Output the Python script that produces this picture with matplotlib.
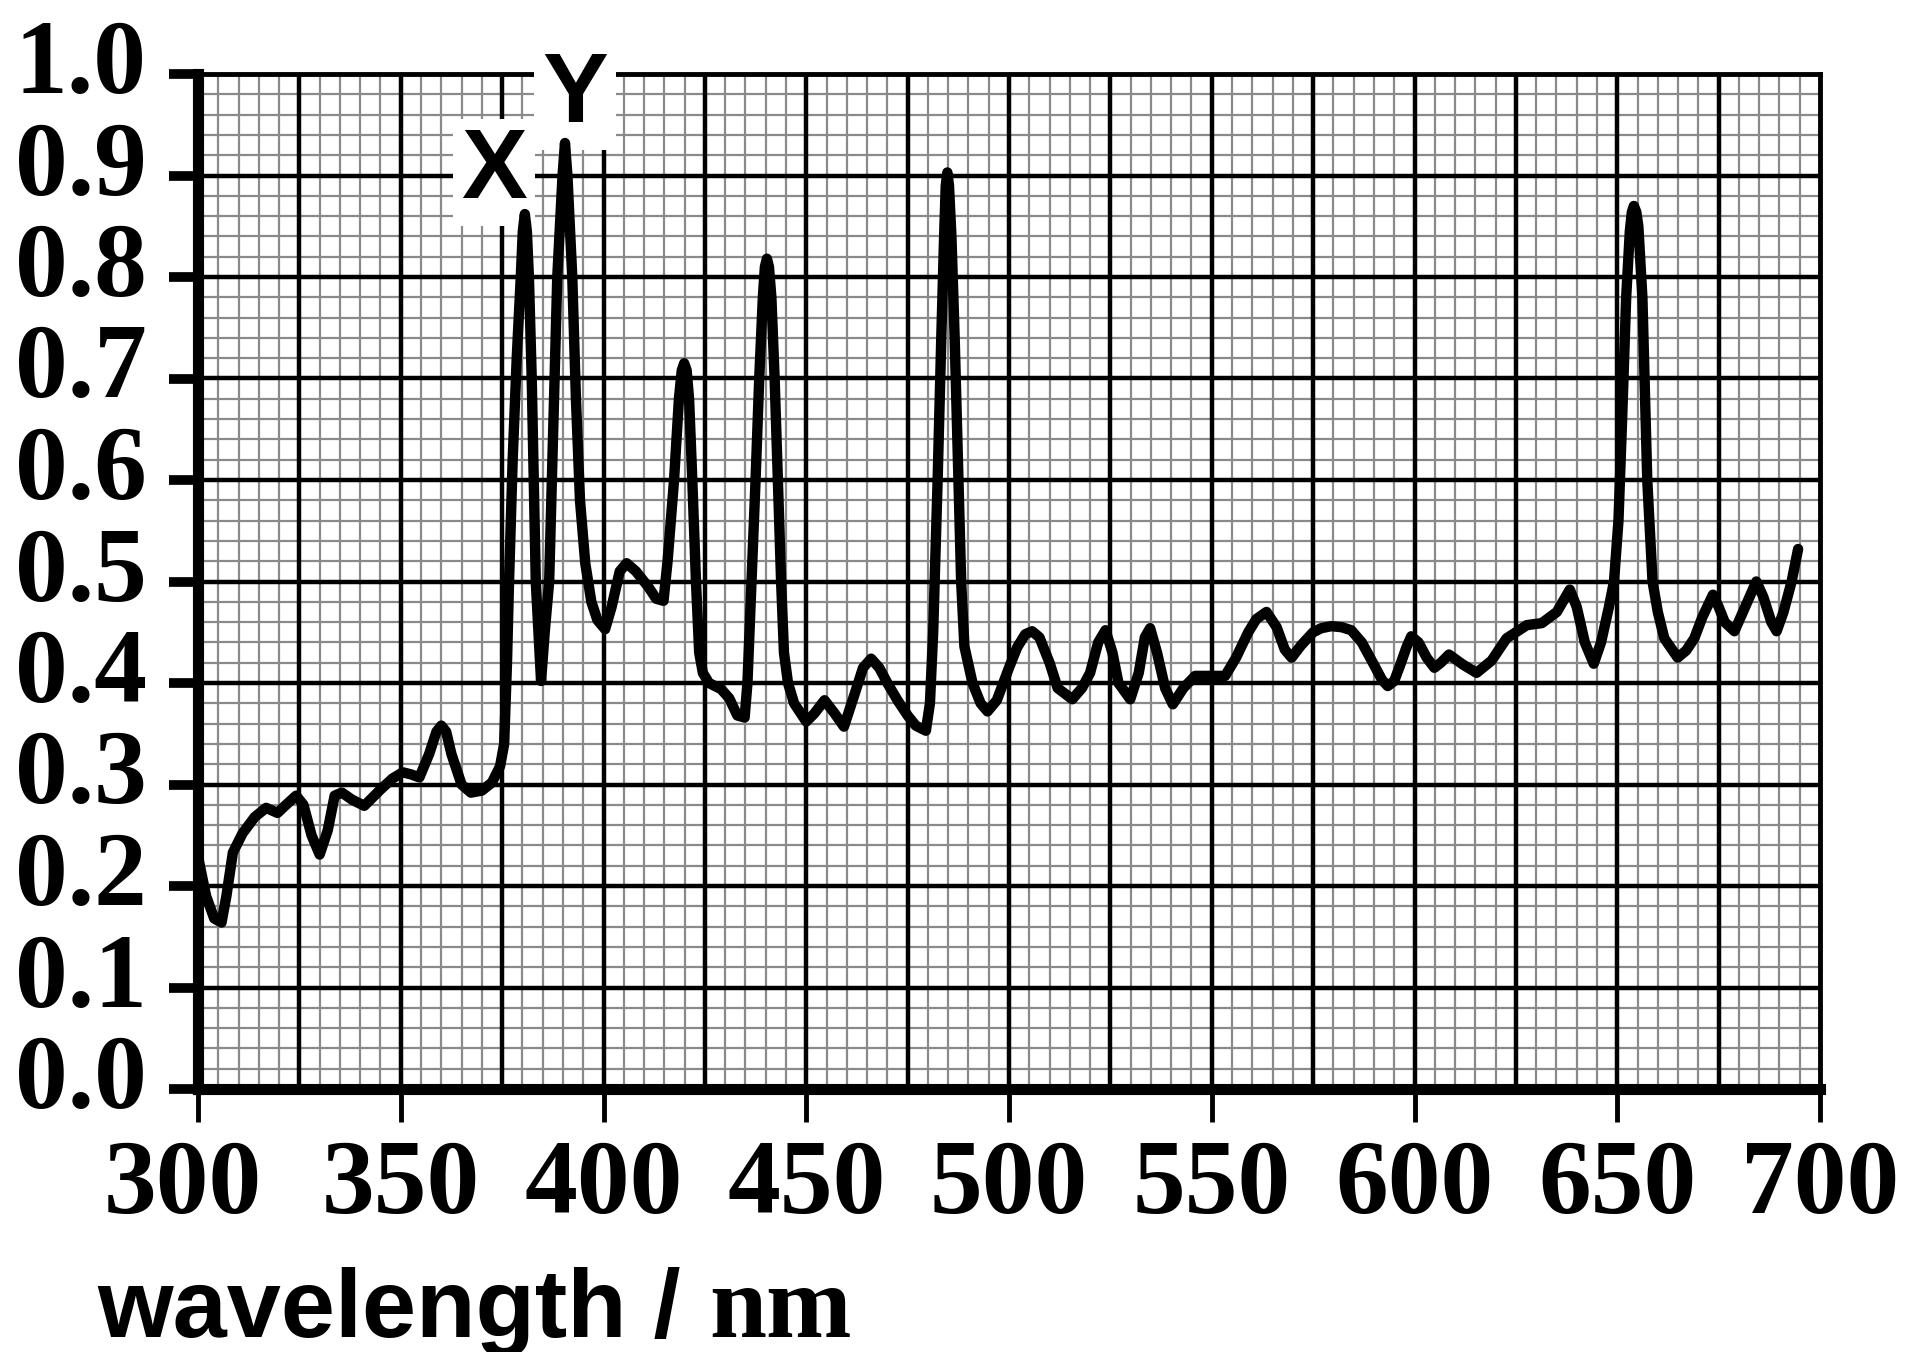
import numpy as np
import matplotlib
matplotlib.use("Agg")
import matplotlib.pyplot as plt
from matplotlib.transforms import ScaledTranslation

# spectrum (wavelength in nm, absorbance)
wavelength = [300, 302, 304, 305.8, 307, 308.6, 311, 314, 316.8, 319.6, 322, 324.2, 326, 328, 330,
              332, 333.7, 335.5, 338, 341, 345, 348, 350.5, 352.5, 354.6, 357, 358.8, 360, 361.2, 362.5,
              365, 367.3, 370, 372.5, 374.5, 375.5, 376.2, 376.7, 377.6, 378.6, 379.6, 380.1, 380.6,
              381.1, 381.6, 382.3, 383.3, 384.6, 385.5, 386.6, 387.6, 388.6, 389.9, 390.5, 391.1, 392.3,
              393.2, 394.2, 395.5, 397, 398.5, 400.4, 402, 404, 405.7, 408, 411, 413, 414.8, 415.8,
              417.4, 418.6, 419.3, 419.9, 420.5, 421.1, 421.9, 422.8, 423.6, 424.5, 426, 429, 431, 433,
              434.8, 435.5, 436.5, 437.5, 438.4, 439.3, 439.8, 440.3, 440.8, 441.4, 442.2, 443, 443.8,
              444.5, 445.5, 447, 450, 452, 454.5, 457, 459.3, 462, 464, 466, 468, 470, 472.5, 475, 477,
              479.5, 480.5, 481.3, 482.4, 483.3, 484, 484.4, 484.8, 485.2, 485.8, 486.6, 487.4, 488.2,
              489, 491, 493, 494.7, 497, 500, 502, 504, 505.7, 507.5, 510, 512, 515.6, 518, 520, 522,
              523.8, 525.5, 527, 529.9, 532, 533.5, 534.8, 536.5, 538.5, 540.4, 543, 545.9, 550, 553.3,
              556, 559, 561, 563.5, 566, 568, 569.7, 572, 575, 577, 579.5, 582, 584.4, 587, 590, 592,
              593.4, 595, 596.5, 598, 599.2, 601, 603, 604.9, 606.5, 608.5, 612, 615.3, 619, 622.7,
              627.7, 631.4, 635.1, 638.3, 640, 642, 644.2, 646, 647.9, 649.2, 650.3, 651.2, 652.2,
              653.1, 653.6, 654.1, 654.7, 655.2, 656.2, 657.4, 658.7, 660, 661.6, 664.9, 667, 669, 671,
              673.6, 675, 676.5, 678.9, 681, 684.3, 686, 688, 689.3, 691, 693, 694.6]
absorbance = [0.229, 0.19, 0.168, 0.164, 0.19, 0.233, 0.252, 0.268, 0.277, 0.272, 0.281, 0.289, 0.28, 0.25, 0.231,
              0.255, 0.289, 0.292, 0.285, 0.279, 0.295, 0.306, 0.312, 0.31, 0.307, 0.33, 0.352, 0.358, 0.352, 0.33,
              0.30, 0.292, 0.294, 0.302, 0.318, 0.34, 0.42, 0.50, 0.62, 0.72, 0.80, 0.845, 0.862,
              0.845, 0.80, 0.70, 0.50, 0.402, 0.45, 0.50, 0.65, 0.80, 0.90, 0.932, 0.90, 0.80,
              0.68, 0.58, 0.518, 0.48, 0.462, 0.453, 0.475, 0.51, 0.518, 0.51, 0.495, 0.483, 0.481, 0.52,
              0.60, 0.68, 0.708, 0.715, 0.708, 0.68, 0.60, 0.50, 0.43, 0.41, 0.40, 0.394, 0.385, 0.368,
              0.366, 0.40, 0.50, 0.60, 0.70, 0.78, 0.81, 0.818, 0.81, 0.78, 0.70, 0.60, 0.50,
              0.43, 0.40, 0.38, 0.362, 0.37, 0.383, 0.37, 0.357, 0.39, 0.415, 0.424, 0.415, 0.40, 0.383, 0.368, 0.358,
              0.353, 0.38, 0.45, 0.60, 0.74, 0.84, 0.89, 0.903, 0.89, 0.84, 0.74, 0.62, 0.50,
              0.436, 0.40, 0.38, 0.372, 0.383, 0.415, 0.435, 0.448, 0.451, 0.445, 0.42, 0.395, 0.384, 0.395, 0.41, 0.44,
              0.452, 0.43, 0.40, 0.384, 0.41, 0.445, 0.454, 0.43, 0.395, 0.379, 0.395, 0.407, 0.407, 0.407,
              0.425, 0.45, 0.463, 0.470, 0.455, 0.433, 0.425, 0.437, 0.45, 0.454, 0.456, 0.455, 0.452, 0.44, 0.418, 0.403,
              0.397, 0.402, 0.418, 0.435, 0.446, 0.44, 0.425, 0.415, 0.42, 0.428, 0.418, 0.410, 0.422, 0.444,
              0.457, 0.459, 0.470, 0.492, 0.475, 0.44, 0.419, 0.44, 0.474, 0.50, 0.56, 0.66, 0.78,
              0.845, 0.864, 0.87, 0.864, 0.85, 0.78, 0.60, 0.50, 0.47, 0.444, 0.425, 0.432, 0.444, 0.465,
              0.487, 0.475, 0.46, 0.451, 0.47, 0.500, 0.485, 0.46, 0.451, 0.47, 0.50, 0.532]

x_ticks = [300, 350, 400, 450, 500, 550, 600, 650, 700]
y_ticks = [0.0, 0.1, 0.2, 0.3, 0.4, 0.5, 0.6, 0.7, 0.8, 0.9, 1.0]
peak_labels = ["X", "Y"]
peak_label_pos = [(373, 0.878), (393, 0.953)]

W, H = 1906, 1352
fig = plt.figure(figsize=(W / 100, H / 100), dpi=100)
ax = fig.add_axes([198 / W, 1 - 1089 / H, (1820 - 198) / W, (1089 - 74) / H])
ax.set_xlim(300, 700)
ax.set_ylim(0, 1)

# graph paper
ax.vlines(np.arange(300, 701, 5), 0, 1, colors="#8a8a8a", lw=1.6, zorder=0.5)
ax.hlines(np.arange(0, 1.001, 0.02), 300, 700, colors="#8a8a8a", lw=1.6, zorder=0.5)
ax.vlines(np.arange(325, 700, 25), 0, 1, colors="black", lw=3.2, zorder=0.6)
ax.hlines(np.arange(0.1, 1.0, 0.1), 300, 700, colors="black", lw=3.2, zorder=0.6)

ax.plot(wavelength, absorbance, color="black", lw=7.5, solid_joinstyle="round",
        solid_capstyle="round", zorder=3)

for s in ["left", "bottom"]:
    ax.spines[s].set_linewidth(8)
for s in ["top", "right"]:
    ax.spines[s].set_linewidth(3.5)

ax.set_xticks(x_ticks)
ax.set_xticklabels([str(v) for v in x_ticks])
ax.set_yticks(y_ticks)
ax.set_yticklabels(["%.1f" % v for v in y_ticks])
ax.tick_params(axis="y", length=21, width=7, pad=16, direction="out")
ax.tick_params(axis="x", length=24, width=3.5, pad=12, direction="out")
for lbl in ax.get_xticklabels() + ax.get_yticklabels():
    lbl.set_fontfamily("Liberation Serif")
    lbl.set_fontweight("bold")
    lbl.set_fontsize(76)
for lbl in ax.get_yticklabels():
    lbl.set_transform(lbl.get_transform() + ScaledTranslation(0, 18 / 100, fig.dpi_scale_trans))
first = ax.get_xticklabels()[0]
first.set_transform(first.get_transform() + ScaledTranslation(-15 / 100, 0, fig.dpi_scale_trans))

for txt, (px, py) in zip(peak_labels, peak_label_pos):
    ax.text(px, py, txt, family="Liberation Sans", fontweight="bold", fontsize=71,
            ha="center", va="baseline", zorder=2.8,
            bbox=dict(boxstyle="square,pad=0.08", fc="white", ec="none"))

fig.text(97 / W, 1 - 1337 / H, "wavelength /", family="Liberation Sans",
         fontweight="bold", fontsize=70, va="baseline", ha="left")
fig.text(709 / W, 1 - 1337 / H, "nm", family="Liberation Serif",
         fontweight="bold", fontsize=74, va="baseline", ha="left")

fig.savefig("out.png", dpi=100)
